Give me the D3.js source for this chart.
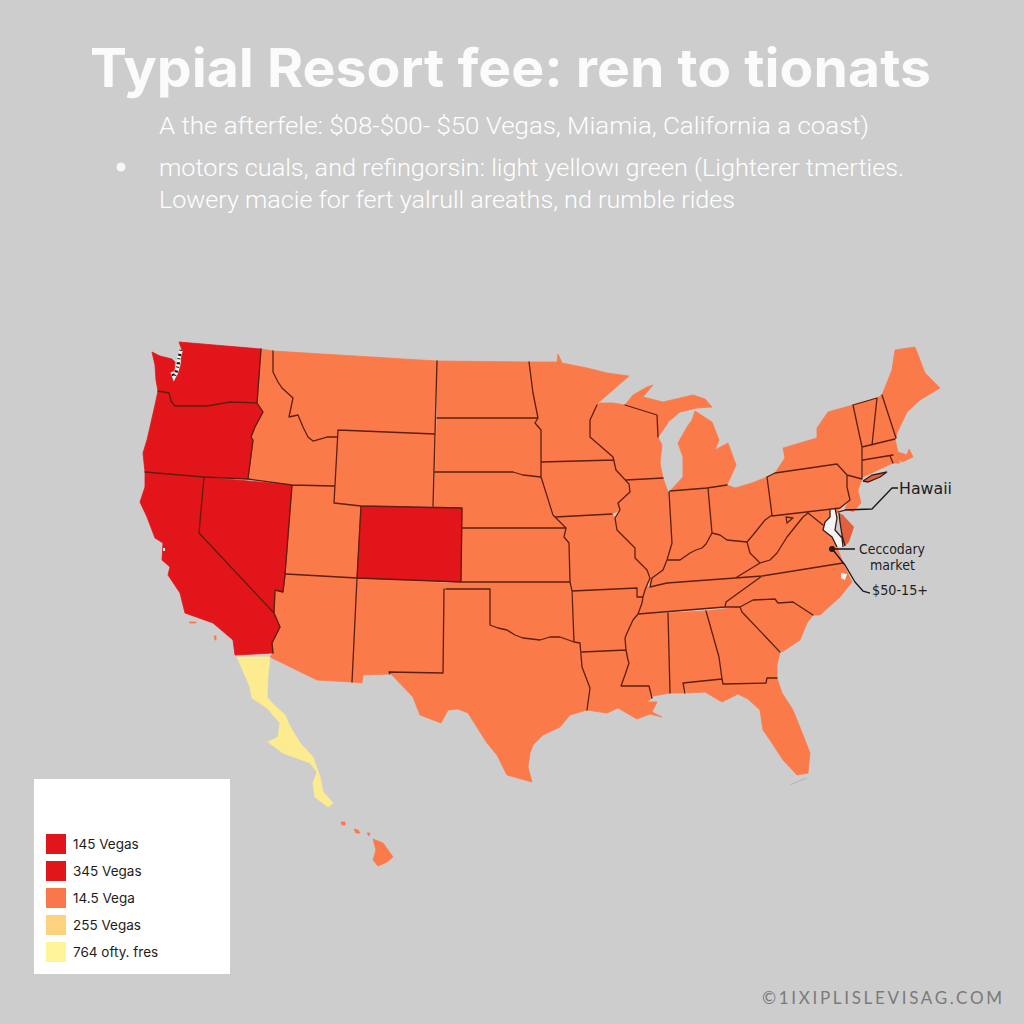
<!DOCTYPE html>
<html><head><meta charset="utf-8">
<script src="https://cdn.jsdelivr.net/npm/d3@7"></script>
<style>html,body{margin:0;padding:0;background:#cdcdcd}svg{display:block}</style>
</head><body><svg id="c" width="1024" height="1024"></svg>
<script>
// Text
const titleText = "Typial Resort fee: ren to tionats";
const subtitleLines = [
  "A the afterfele: $08-$00- $50  Vegas, Miamia, California a coast)",
  "motors cuals, and refingorsin: light yellowı green (Lighterer tmerties.",
  "Lowery macie for fert yalrull areaths, nd rumble rides"
];
const legendLabels = ["145 Vegas","345 Vegas","14.5 Vega","255 Vegas","764 ofty. fres"];
const legendColors = ["#e0161a","#e0161a","#f9774a","#fdd27f","#fdf598"];
const calloutLabels = ["Hawaii","Ceccodary","market","$50-15+"];
const creditText = "©1IXIPLISLEVISAG.COM";

// Fee tier of each region
const tierNames = ["high","mid","low"];
const tierColors = ["#e2151a","#fb7a4a","#fdeb90"];
const highRegions = ["WA","OR","CA","NV","CO"];
const lowRegions = ["Baja"];

// Traced outlines in map units
const westRings = [
 ["WA",[[179,342],[261,349],[257,403],[230,402],[207,406],[175,406],[171,401],[169,393],[158,391],[156,380],[155,365],[152,352],[160,356],[172,359],[175,362],[174,372],[177,377],[181,365],[182,350]]],
 ["OR",[[158,391],[169,393],[171,401],[175,406],[207,406],[230,402],[257,403],[263,412],[255,427],[251,437],[253,440],[248,479],[204,477],[145,472],[143,453],[147,440],[150,427],[155,405]]],
 ["CA",[[145,472],[204,477],[199,533],[274,613],[280,627],[272,643],[273,653],[235,655],[233,640],[213,623],[185,613],[180,593],[168,575],[170,567],[162,560],[163,543],[155,538],[147,517],[140,502],[145,487]]],
 ["NV",[[204,477],[292,485],[285,575],[283,592],[275,590],[274,613],[199,533]]],
 ["ID",[[261,349],[273,351],[273,372],[282,388],[293,398],[289,417],[298,415],[303,427],[313,441],[327,437],[337,437],[334,486],[292,485],[248,479],[253,440],[251,437],[255,427],[263,412],[257,403]]],
 ["MT",[[273,351],[437,361],[435,434],[338,430],[337,437],[327,437],[313,441],[303,427],[298,415],[289,417],[293,398],[282,388],[273,372]]],
 ["WY",[[338,430],[435,434],[433,506],[361,506],[334,503],[337,437]]],
 ["UT",[[292,485],[334,486],[334,503],[361,506],[357,578],[286,574]]],
 ["CO",[[361,506],[462,508],[461,582],[357,578]]],
 ["AZ",[[286,574],[357,578],[352,682],[317,680],[270,657],[273,653],[272,643],[280,627],[274,613],[275,590],[283,592],[285,575]]],
 ["NM",[[357,578],[444,583],[443,673],[389,672],[390,674],[363,675],[362,683],[352,682]]]
];
const plainsRings = [
 ["ND",[[437,361],[529,362],[533,393],[538,418],[437,418]]],
 ["SD",[[437,418],[538,418],[535,423],[541,430],[541,477],[523,475],[513,472],[435,472]]],
 ["NE",[[435,472],[513,472],[523,475],[541,477],[542,480],[553,515],[566,528],[462,528],[462,508],[434,507]]],
 ["KS",[[462,528],[565,527],[564,537],[569,543],[570,582],[462,582]]],
 ["OK",[[444,583],[570,582],[574,642],[560,637],[540,640],[523,638],[507,630],[490,625],[490,589],[444,589]]],
 ["TX",[[444,589],[490,589],[490,625],[507,630],[523,638],[540,640],[560,637],[574,642],[580,643],[582,667],[590,688],[587,710],[570,715],[560,727],[543,735],[533,745],[530,753],[528,767],[532,782],[507,775],[497,755],[487,743],[468,713],[458,709],[448,710],[441,723],[420,715],[413,697],[390,673],[443,673]]],
 ["MN",[[529,362],[557,362],[558,354],[562,363],[587,368],[607,373],[629,376],[598,403],[590,420],[590,437],[613,457],[614,460],[541,462],[541,430],[535,423],[538,418],[533,393]]],
 ["IA",[[541,462],[614,460],[616,470],[629,484],[630,492],[618,503],[620,510],[612,514],[555,517],[542,480],[541,477]]],
 ["MO",[[555,517],[612,514],[615,518],[617,530],[635,548],[635,558],[647,570],[650,578],[645,590],[643,597],[637,597],[637,588],[572,591],[570,582],[569,543],[564,537],[566,528]]],
 ["AR",[[572,591],[637,588],[637,597],[643,597],[642,603],[637,615],[627,633],[626,650],[582,652],[580,643],[574,642]]],
 ["LA",[[582,652],[626,650],[629,663],[621,686],[649,686],[652,698],[647,702],[657,702],[652,712],[662,717],[650,714],[637,719],[618,708],[607,713],[587,710],[590,688],[582,667]]]
];
const southRings = [
 ["MS",[[638,614],[668,613],[670,693],[653,696],[649,686],[621,686],[629,663],[626,650],[625,638],[637,615]]],
 ["AL",[[668,613],[706,611],[719,657],[722,679],[683,683],[685,693],[670,693]]],
 ["GA",[[706,611],[740,607],[742,612],[780,652],[777,665],[777,678],[767,678],[766,683],[723,684],[722,679],[719,657]]],
 ["FL",[[683,683],[722,679],[723,684],[766,683],[767,678],[777,678],[782,693],[793,710],[803,735],[810,753],[808,773],[797,775],[783,760],[770,740],[763,730],[760,710],[748,699],[738,694],[722,702],[705,692],[687,693]]],
 ["SC",[[742,612],[740,607],[753,600],[775,599],[778,603],[793,602],[813,615],[807,623],[800,640],[782,652]]],
 ["NC",[[843,563],[852,582],[840,597],[820,615],[813,615],[793,602],[778,603],[775,599],[753,600],[740,607],[725,607],[726,602],[762,576]]],
 ["TN",[[650,587],[667,583],[762,576],[726,602],[725,607],[638,614],[642,603],[646,587]]],
 ["KY",[[650,578],[663,570],[668,560],[680,560],[702,548],[712,533],[727,540],[747,542],[750,553],[760,563],[737,577],[667,583],[650,587]]],
 ["VA",[[737,577],[760,563],[777,553],[787,537],[803,517],[808,513],[823,525],[825,522],[823,530],[832,537],[837,547],[843,563],[762,576]]],
 ["WV",[[765,520],[772,516],[786,517],[787,523],[793,518],[803,517],[787,537],[777,553],[760,563],[750,553],[747,542],[757,530]]]
];
const northRings = [
 ["IL",[[628,480],[663,478],[668,492],[672,543],[667,560],[663,570],[652,578],[647,570],[635,558],[635,548],[617,530],[615,518],[620,510],[618,503],[630,492],[629,484]]],
 ["IN",[[669,492],[708,488],[712,533],[702,548],[680,560],[668,560],[672,543]]],
 ["OH",[[707,488],[727,485],[735,488],[752,483],[767,477],[772,515],[765,520],[757,530],[747,542],[727,540],[712,533]]],
 ["WI",[[597,405],[590,420],[590,437],[613,457],[616,470],[626,480],[663,478],[660,463],[662,445],[658,437],[668,423],[657,415],[625,405],[613,403],[600,403]]],
 ["MIU",[[625,405],[633,395],[647,387],[653,385],[643,397],[663,402],[693,395],[705,399],[712,407],[697,408],[680,412],[667,423],[658,437],[657,415]]],
 ["MIL",[[695,411],[712,422],[719,440],[715,450],[728,443],[736,465],[727,485],[707,488],[670,491],[683,477],[683,457],[678,443],[687,427],[692,420]]],
 ["PA",[[767,477],[775,473],[837,464],[847,475],[847,487],[850,500],[840,508],[772,516]]],
 ["NY",[[775,473],[837,464],[847,475],[862,478],[862,447],[853,405],[828,412],[817,428],[817,438],[783,448],[785,458]]],
 ["VT",[[853,405],[877,398],[872,445],[862,447]]],
 ["NH",[[877,398],[882,395],[896,438],[872,445]]],
 ["ME",[[882,395],[892,370],[895,350],[915,347],[925,373],[940,388],[920,400],[907,412],[897,433],[896,438]]],
 ["MA",[[862,447],[895,439],[898,452],[907,455],[909,449],[913,457],[902,462],[893,455],[863,460]]],
 ["CT",[[863,459],[890,456],[896,454],[900,463],[893,463],[863,477]]],
 ["NJ",[[847,475],[862,479],[858,490],[861,503],[853,512],[845,508],[850,500],[847,487]]],
 ["MD",[[772,516],[840,508],[836,514],[830,515],[827,525],[823,525],[808,513],[803,517],[793,518],[787,523],[786,517]]]
];
const outlyingRings = [
 ["Baja",[[237,657],[270,657],[268,675],[267,697],[272,703],[285,715],[288,722],[292,730],[300,743],[313,757],[320,777],[323,792],[333,803],[328,807],[315,797],[313,783],[317,772],[310,763],[283,753],[268,742],[278,737],[280,723],[267,708],[252,698],[250,687]]],
 ["HI1",[[373,839],[383,843],[393,857],[387,862],[378,866],[373,860],[376,850]]],
 ["HI2",[[341,822],[345,822],[345,825],[342,825]]],
 ["HI3",[[354,829],[358,830],[360,833],[356,833]]],
 ["HI4",[[367,833],[370,833],[369,836]]],
 ["CI1",[[189,622],[196,622],[196,623],[190,623]]],
 ["CI2",[[214,636],[216,636],[216,640],[215,640]]]
];
const accentRings = [
 ["LI",[[863,481],[872,475],[887,472],[880,477],[868,482]]],
 ["DEL",[[839,513],[843,515],[854,527],[849,542],[845,546],[842,535],[840,522]]]
];
const waterRings = [
 ["Bay",[[830,510],[835,508],[837,518],[835,530],[842,538],[843,547],[837,547],[832,537],[823,530],[825,522],[830,517]]],
 ["Banks",[[841,573],[847,574],[845,580],[841,578]]],
 ["SF",[[163,548],[165,548],[165,551],[163,551]]]
];
const soundLine = [[181,350],[179,358],[178,366],[176,373],[174,377],[172,372]];
// Internal state borders
const borderLines = [
 [[158,391],[169,393],[171,401],[175,406],[207,406],[230,402],[257,403]],
 [[261,349],[257,403],[263,412],[255,427],[251,437],[253,440],[248,479]],
 [[145,472],[204,477],[248,479],[292,485],[334,486]],
 [[204,477],[199,533],[274,613],[280,627],[272,643],[273,653]],
 [[292,485],[285,575],[283,592],[275,590],[274,613]],
 [[273,351],[273,372],[278,382],[282,388],[293,398],[289,417],[298,415],[303,427],[308,437],[313,441],[320,439],[327,437],[337,437]],
 [[338,430],[334,503],[361,506],[462,508],[461,582],[357,578],[361,506]],
 [[338,430],[435,434]],
 [[286,574],[357,578]],
 [[357,578],[352,682]],
 [[461,582],[570,582]],
 [[444,589],[443,673],[389,672],[390,674]],
 [[446,589],[490,589],[490,625],[498,628],[507,630],[515,635],[523,638],[532,639],[540,640],[550,637],[560,637],[574,642],[580,643],[582,667],[590,688],[587,710]],
 [[437,361],[433,506]],
 [[437,418],[538,418]],
 [[435,472],[513,472],[523,475],[541,477]],
 [[529,362],[533,393],[538,418],[535,423],[541,430],[541,477],[542,480],[553,515],[566,528],[564,537],[569,543],[570,582],[572,591],[574,642]],
 [[462,528],[566,528]],
 [[541,462],[614,460]],
 [[597,405],[590,420],[590,437],[613,457],[616,470],[629,484],[630,492],[618,503],[620,510],[615,518],[617,530],[625,538],[635,548],[635,558],[641,564],[647,570],[650,578],[645,590],[643,597],[637,597],[637,588],[572,591]],
 [[555,517],[612,514]],
 [[643,597],[642,603],[638,614],[633,620],[627,633],[625,638],[626,650],[628,660],[629,663],[625,675],[621,686],[649,686],[652,698]],
 [[582,652],[626,650]],
 [[626,480],[663,478]],
 [[625,405],[657,415],[658,437]],
 [[669,492],[672,543],[667,560],[663,570],[652,578],[650,587]],
 [[670,491],[707,488],[727,485]],
 [[708,488],[712,533],[706,544],[702,548],[696,550],[690,553],[680,560],[668,560]],
 [[767,477],[772,515],[765,520],[757,530],[753,535],[747,542],[737,541],[727,540],[720,535],[712,533]],
 [[650,587],[667,583],[762,576],[843,563]],
 [[638,614],[725,607],[726,602],[762,576]],
 [[668,613],[670,693]],
 [[706,611],[719,657],[722,679],[683,683],[685,693]],
 [[722,679],[723,684],[766,683],[767,678],[777,678]],
 [[725,607],[740,607],[753,600],[775,599],[778,603],[793,602],[813,615]],
 [[740,607],[742,612],[780,652]],
 [[737,577],[760,563],[750,553],[747,542]],
 [[760,563],[770,560],[777,553],[787,537],[803,517],[808,513],[823,525]],
 [[787,523],[786,517],[793,518],[787,523]],
 [[772,516],[840,508],[850,500],[847,487],[847,475],[837,464],[775,473],[767,477]],
 [[847,475],[862,479],[862,447],[853,405]],
 [[853,405],[877,398],[872,445]],
 [[882,395],[896,438]],
 [[862,447],[895,439]],
 [[863,460],[893,455]],
 [[890,456],[893,463]],
 [[838,512],[845,510]]
];
const accentOutline = [
 [[863,481],[872,475],[887,472],[880,477],[868,482],[863,481]],
 [[830,510],[830,517],[825,522],[823,530],[832,537],[837,547]],
 [[835,508],[837,518],[835,530],[842,538],[843,547]],
 [[839,513],[840,522],[842,535],[845,546]]
];
const keysLine = [[790,785],[799,781],[807,778]];
const calloutLines = [
 [[845,510],[872,509],[892,488],[898,488]],
 [[832,549],[855,549]],
 [[833,550],[845,565],[855,582],[863,591],[870,593]]
];

const svg = d3.select("#c");
const W = 1024, H = 1024;
svg.append("rect").attr("width",W).attr("height",H).attr("fill","#cdcdcd");

const tierOf = n => highRegions.includes(n) ? "high" : lowRegions.includes(n) ? "low" : "mid";
const color = d3.scaleOrdinal(tierNames, tierColors);
const path = d3.geoPath(d3.geoIdentity());
const close = r => r.concat([r[0]]);
const poly = ([name, ring]) => ({type:"Feature",properties:{name},geometry:{type:"Polygon",coordinates:[close(ring)]}});

const lands = [...westRings, ...plainsRings, ...southRings, ...northRings, ...outlyingRings].map(poly);
const isHigh = f => tierOf(f.properties.name) === "high";
svg.append("g").selectAll("path").data([...lands.filter(f=>!isHigh(f)), ...lands.filter(isHigh)]).join("path")
  .attr("d", path)
  .attr("fill", d => color(tierOf(d.properties.name)))
  .attr("stroke", d => color(tierOf(d.properties.name)))
  .attr("stroke-width", 0.8).attr("stroke-linejoin","round");

svg.append("g").selectAll("path").data(waterRings.map(poly)).join("path")
  .attr("d", path).attr("fill","#f4f4f4");
svg.append("g").selectAll("path").data(accentRings.map(poly)).join("path")
  .attr("d", path).attr("fill","#e4603c");

const lines = (coords) => ({type:"MultiLineString",coordinates:coords});
svg.append("path").datum(lines(borderLines)).attr("d",path).attr("fill","none")
  .attr("stroke","#5e1f0f").attr("stroke-width",1.3).attr("stroke-linejoin","round").attr("stroke-linecap","round");
svg.append("path").datum(lines(accentOutline)).attr("d",path).attr("fill","none")
  .attr("stroke","#3a1c14").attr("stroke-width",1.3);
svg.append("path").datum(lines([soundLine])).attr("d",path).attr("fill","none")
  .attr("stroke","#f2f2f2").attr("stroke-width",3.6);
svg.append("path").datum(lines([soundLine])).attr("d",path).attr("fill","none")
  .attr("stroke","#1b1412").attr("stroke-width",3.2).attr("stroke-dasharray","1 3 2 2.5");
svg.append("path").datum(lines([keysLine])).attr("d",path).attr("fill","none")
  .attr("stroke","#b9a89e").attr("stroke-width",0.8);
svg.append("path").datum(lines(calloutLines)).attr("d",path).attr("fill","none")
  .attr("stroke","#161616").attr("stroke-width",1.3).attr("stroke-linejoin","round");
svg.append("circle").attr("cx",832).attr("cy",549).attr("r",3).attr("fill","#2a1a16");

// Callout labels
const calloutX = [899,859,870,872], calloutY = [494,554,570,595], calloutSize = [15.5,13.5,13.5,14.5], calloutLen=[53,66,45,56];
svg.append("g").selectAll("text").data(calloutLabels).join("text")
  .attr("x",(d,i)=>calloutX[i]).attr("y",(d,i)=>calloutY[i])
  .attr("font-family","'DejaVu Sans'").attr("font-size",(d,i)=>calloutSize[i]).attr("fill","#1e1e1e")
  .attr("textLength",(d,i)=>calloutLen[i]).attr("lengthAdjust","spacingAndGlyphs").text(d=>d);

// Title block
svg.append("text").attr("x",90).attr("y",87).attr("font-family","Inter").attr("font-weight",700)
  .attr("font-size",54).attr("fill","#fbfbfb").attr("textLength",841).attr("lengthAdjust","spacingAndGlyphs").text(titleText);
const subY = [134,176,208], subLen = [710,745,576];
svg.append("g").selectAll("text").data(subtitleLines).join("text")
  .attr("x",159).attr("y",(d,i)=>subY[i]).attr("font-family","Roboto").attr("font-weight",300)
  .attr("font-size",24.5).attr("fill","#ffffff").attr("textLength",(d,i)=>subLen[i]).attr("lengthAdjust","spacingAndGlyphs").text(d=>d);
svg.append("circle").attr("cx",121).attr("cy",167).attr("r",4.5).attr("fill","#f7f7f7");

// Legend
const legend = svg.append("g");
legend.append("rect").attr("x",34).attr("y",779).attr("width",196).attr("height",195).attr("fill","#ffffff");
const legendY = d3.scalePoint(d3.range(legendLabels.length),[844,952]);
const row = legend.selectAll("g").data(legendLabels).join("g").attr("transform",(d,i)=>`translate(0,${legendY(i)})`);
row.append("rect").attr("x",46).attr("y",-10).attr("width",20).attr("height",20).attr("fill",(d,i)=>legendColors[i]);
row.append("text").attr("x",73).attr("y",5).attr("font-family","Inter").attr("font-size",13.5).attr("fill","#1c1c1c").text(d=>d);

// Credit
svg.append("text").attr("x",762).attr("y",1004).attr("font-family","Lato")
  .attr("font-size",17).attr("fill","#7a7a7a").attr("textLength",240).attr("lengthAdjust","spacing").text(creditText);
</script></body></html>
